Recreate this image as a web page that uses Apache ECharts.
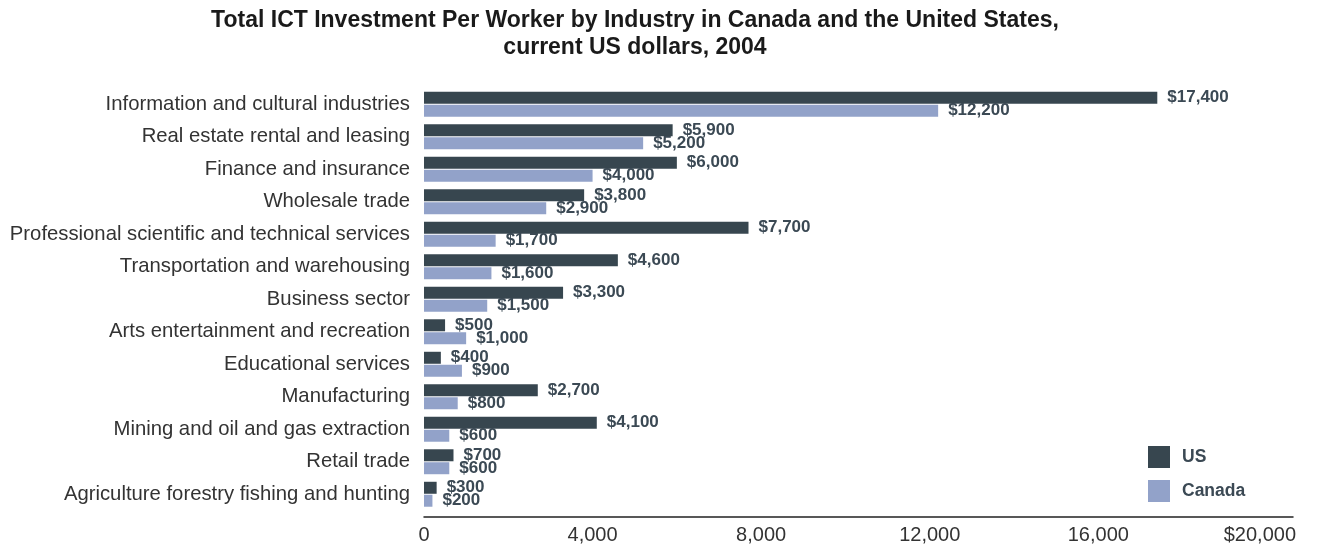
<!DOCTYPE html>
<html>
<head>
<meta charset="utf-8">
<title>Total ICT Investment Per Worker by Industry</title>
<script src="https://cdn.jsdelivr.net/npm/echarts@6/dist/echarts.min.js"></script>
<style>
  html, body { margin: 0; padding: 0; background: #ffffff; }
  #chart { width: 1317px; height: 548px; }
</style>
</head>
<body>
<div id="chart"></div>
<script>
// Industries, listed top to bottom
const industries = [
  'Information and cultural industries',
  'Real estate rental and leasing',
  'Finance and insurance',
  'Wholesale trade',
  'Professional scientific and technical services',
  'Transportation and warehousing',
  'Business sector',
  'Arts entertainment and recreation',
  'Educational services',
  'Manufacturing',
  'Mining and oil and gas extraction',
  'Retail trade',
  'Agriculture forestry fishing and hunting'
];

// ICT investment per worker, current US dollars, 2004
const usValues = [17400, 5900, 6000, 3800, 7700, 4600, 3300, 500, 400, 2700, 4100, 700, 300];
const canadaValues = [12200, 5200, 4000, 2900, 1700, 1600, 1500, 1000, 900, 800, 600, 600, 200];

// Value-axis ticks
const xTicks = [0, 4000, 8000, 12000, 16000, 20000];

const FONT = "'Liberation Sans', Arial, Helvetica, sans-serif";
const US_COLOR = '#37464f';
const CA_COLOR = '#92a2c9';
const LABEL_COLOR = '#3b4954';

const fmtMoney = v => '$' + v.toLocaleString('en-US');

const chart = echarts.init(document.getElementById('chart'), null, { renderer: 'canvas' });

const valueLabel = {
  show: true,
  position: 'right',
  distance: 10,
  formatter: p => fmtMoney(p.value),
  fontFamily: FONT,
  fontSize: 17,
  fontWeight: 'bold',
  color: LABEL_COLOR
};

chart.setOption({
  animation: false,
  backgroundColor: '#ffffff',
  textStyle: { fontFamily: FONT },
  graphic: [{
    type: 'text',
    x: 635,
    y: 7,
    style: {
      text: 'Total ICT Investment Per Worker by Industry in Canada and the United States,\ncurrent US dollars, 2004',
      textAlign: 'center',
      fontFamily: FONT,
      fontSize: 23,
      fontWeight: 'bold',
      lineHeight: 27,
      fill: '#1a1a1a'
    }
  }],
  legend: {
    orient: 'vertical',
    left: 1143,
    top: 441,
    itemWidth: 22,
    itemHeight: 22,
    itemGap: 12,
    icon: 'rect',
    selectedMode: false,
    textStyle: {
      fontFamily: FONT,
      fontSize: 17.5,
      fontWeight: 'bold',
      color: LABEL_COLOR,
      padding: [0, 0, 0, 7]
    },
    data: ['US', 'Canada']
  },
  grid: {
    left: 424,
    right: 24,
    top: 88,
    height: 422.5
  },
  xAxis: {
    type: 'value',
    min: 0,
    max: 20620,
    interval: 4000,
    offset: 6,
    axisLine: { show: true, lineStyle: { color: '#222222', width: 1.5 } },
    axisTick: { show: false },
    splitLine: { show: false },
    axisLabel: {
      fontFamily: FONT,
      fontSize: 20,
      color: '#333333',
      margin: 9,
      formatter: v => {
        if (xTicks.indexOf(v) < 0) return '';
        if (v === xTicks[xTicks.length - 1]) return fmtMoney(v) + '{s|}';
        return v.toLocaleString('en-US');
      },
      rich: { s: { width: 14 } }
    }
  },
  yAxis: {
    type: 'category',
    inverse: true,
    data: industries,
    axisLine: { show: false },
    axisTick: { show: false },
    axisLabel: {
      fontFamily: FONT,
      fontSize: 20.3,
      color: '#333333',
      margin: 14
    }
  },
  series: [
    {
      name: 'US',
      type: 'bar',
      data: usValues,
      barWidth: 12,
      barGap: '8%',
      itemStyle: { color: US_COLOR },
      label: valueLabel
    },
    {
      name: 'Canada',
      type: 'bar',
      data: canadaValues,
      barWidth: 12,
      barGap: '8%',
      itemStyle: { color: CA_COLOR },
      label: valueLabel
    }
  ]
});
</script>
</body>
</html>
